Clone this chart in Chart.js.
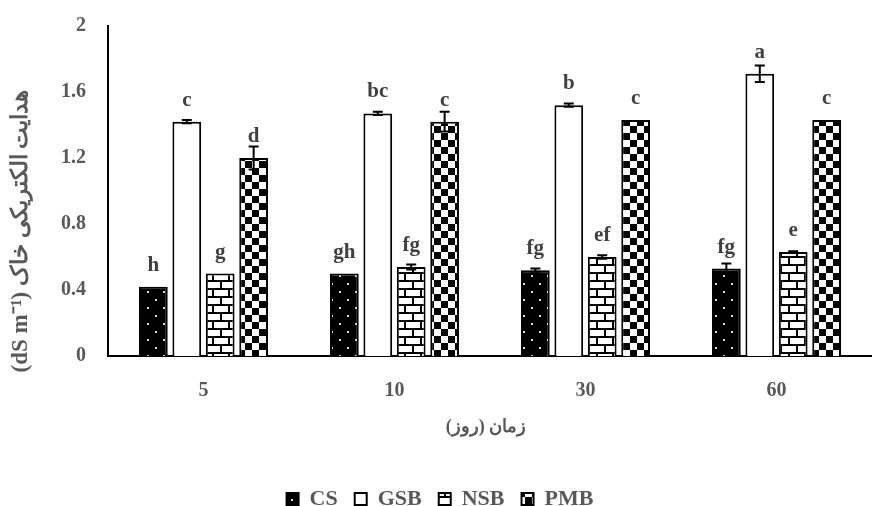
<!DOCTYPE html>
<html>
<head>
<meta charset="utf-8">
<script src="https://cdn.jsdelivr.net/npm/chart.js@4"></script>
<style>
  html, body { margin: 0; padding: 0; background: #fff; }
</style>
</head>
<body>
<canvas id="chart" width="872" height="506"></canvas>
<script>
// data
var days = ['5', '10', '30', '60'];
var seriesNames = ['CS', 'GSB', 'NSB', 'PMB'];
var csValues = [0.42, 0.50, 0.52, 0.53];
var gsbValues = [1.42, 1.47, 1.52, 1.71];
var nsbValues = [0.50, 0.54, 0.60, 0.63];
var pmbValues = [1.20, 1.42, 1.43, 1.43];
var csErr = [0, 0, 0.01, 0.03];
var gsbErr = [0.01, 0.01, 0.01, 0.05];
var nsbErr = [0, 0.015, 0.01, 0.005];
var pmbErr = [0.07, 0.06, 0, 0];
var csLetters = ['h', 'gh', 'fg', 'fg'];
var gsbLetters = ['c', 'bc', 'b', 'a'];
var nsbLetters = ['g', 'fg', 'ef', 'e'];
var pmbLetters = ['d', 'c', 'c', 'c'];
var yTickValues = [0, 0.4, 0.8, 1.2, 1.6, 2];
var yTickLabels = ['0', '0.4', '0.8', '1.2', '1.6', '2'];
var yTitle = 'هدایت الکتریکی خاک (dS m⁻¹)';
var xTitle = 'زمان (روز)';

var serif = '"Liberation Serif", "Times New Roman", serif';
var textGray = '#595959';

var canvas = document.getElementById('chart');
var ctx = canvas.getContext('2d');

function makePattern(w, h, draw) {
    var c = document.createElement('canvas');
    c.width = w;
    c.height = h;
    draw(c.getContext('2d'));
    return ctx.createPattern(c, 'repeat');
}

// black with small light dots
var dotFill = makePattern(16, 16, function (g) {
    g.fillStyle = '#000';
    g.fillRect(0, 0, 16, 16);
    g.fillStyle = '#d8d8d8';
    g.fillRect(3, 3, 2, 2);
    g.fillRect(11, 11, 2, 2);
});

// brick
var brickFill = makePattern(16, 16, function (g) {
    g.fillStyle = '#fff';
    g.fillRect(0, 0, 16, 16);
    g.fillStyle = '#000';
    g.fillRect(0, 0, 16, 2);
    g.fillRect(0, 8, 16, 2);
    g.fillRect(4, 0, 2, 8);
    g.fillRect(12, 8, 2, 8);
});

// checkerboard
var checkFill = makePattern(14, 14, function (g) {
    g.fillStyle = '#fff';
    g.fillRect(0, 0, 14, 14);
    g.fillStyle = '#000';
    g.fillRect(0, 0, 7, 7);
    g.fillRect(7, 7, 7, 7);
});

var errors = [csErr, gsbErr, nsbErr, pmbErr];
var letters = [csLetters, gsbLetters, nsbLetters, pmbLetters];

// error bars + significance letters
var barExtras = {
    id: 'barExtras',
    afterDatasetsDraw: function (chart) {
        var c = chart.ctx;
        var y = chart.scales.y;
        c.save();
        chart.data.datasets.forEach(function (ds, di) {
            var meta = chart.getDatasetMeta(di);
            meta.data.forEach(function (bar, i) {
                var v = ds.data[i];
                var e = errors[di][i];
                if (e > 0) {
                    var yt = y.getPixelForValue(v + e);
                    var yb = y.getPixelForValue(v - e);
                    c.strokeStyle = '#000';
                    c.lineWidth = 2;
                    c.beginPath();
                    c.moveTo(bar.x, yt); c.lineTo(bar.x, yb);
                    c.moveTo(bar.x - 5, yt); c.lineTo(bar.x + 5, yt);
                    c.moveTo(bar.x - 5, yb); c.lineTo(bar.x + 5, yb);
                    c.stroke();
                }
                c.fillStyle = '#404040';
                c.font = 'bold 21px ' + serif;
                c.textAlign = 'center';
                c.textBaseline = 'alphabetic';
                c.fillText(letters[di][i], bar.x, bar.y - 16);
            });
        });
        c.restore();
    }
};

// axis titles (Persian, right-to-left)
var axisTitles = {
    id: 'axisTitles',
    afterDraw: function (chart) {
        var c = chart.ctx;
        var area = chart.chartArea;
        c.save();
        c.direction = 'rtl';
        c.fillStyle = textGray;
        c.textAlign = 'center';
        c.textBaseline = 'middle';
        c.font = 'bold 18px ' + serif;
        c.fillText(xTitle, (area.left + area.right - 8) / 2, 427);
        c.translate(21, 231);
        c.rotate(-Math.PI / 2);
        c.font = 'bold 23px ' + serif;
        c.fillText(yTitle, 0, 0);
        c.restore();
    }
};

new Chart(ctx, {
    type: 'bar',
    data: {
        labels: days,
        datasets: [
            { label: seriesNames[0], data: csValues, backgroundColor: dotFill },
            { label: seriesNames[1], data: gsbValues, backgroundColor: '#fff' },
            { label: seriesNames[2], data: nsbValues, backgroundColor: brickFill },
            { label: seriesNames[3], data: pmbValues, backgroundColor: checkFill }
        ]
    },
    options: {
        responsive: false,
        animation: false,
        datasets: {
            bar: {
                borderColor: '#000',
                borderWidth: 2,
                categoryPercentage: 0.70,
                barPercentage: 0.86
            }
        },
        layout: { padding: { left: 0, right: -8, top: 18, bottom: -14 } },
        plugins: {
            tooltip: { enabled: false },
            legend: {
                position: 'bottom',
                labels: {
                    boxWidth: 12,
                    boxHeight: 12,
                    padding: 17,
                    color: textGray,
                    font: { family: serif, size: 22, weight: 'bold' }
                }
            }
        },
        scales: {
            x: {
                grid: { display: false },
                border: { display: true, color: '#000', width: 2 },
                ticks: {
                    color: textGray,
                    padding: 15,
                    font: { family: serif, size: 20, weight: 'bold' }
                },
                afterFit: function (scale) { scale.height = 115; }
            },
            y: {
                min: 0,
                max: 2,
                grid: { display: false },
                border: { display: true, color: '#000', width: 2 },
                afterBuildTicks: function (scale) {
                    scale.ticks = yTickValues.map(function (v) { return { value: v }; });
                },
                ticks: {
                    color: textGray,
                    padding: 14,
                    font: { family: serif, size: 20, weight: 'bold' },
                    callback: function (value, index) { return yTickLabels[index]; }
                },
                afterFit: function (scale) { scale.width = 108; }
            }
        }
    },
    plugins: [barExtras, axisTitles]
});
</script>
</body>
</html>
